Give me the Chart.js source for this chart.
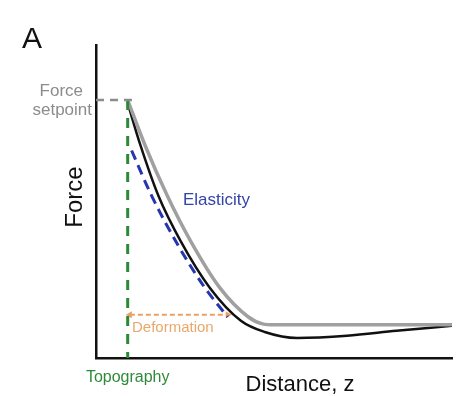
<!DOCTYPE html>
<html>
<head>
<meta charset="utf-8">
<script src="https://cdn.jsdelivr.net/npm/chart.js@4"></script>
<style>
  html, body { margin:0; padding:0; background:#fff; }
  #wrap { width:456px; height:396px; position:relative; }
</style>
</head>
<body>
<div id="wrap"><canvas id="c"></canvas></div>
<script>
// force-distance curve, arbitrary units (0..100 on both axes)
var grayX  = [8.9, 13.8, 20.0, 26.5, 34.8, 42.8, 46.8, 50.0, 100];
var grayY  = [82.4, 67.9, 51.9, 37.5, 22.4, 13.1, 10.9, 10.6, 10.6];
var blackX = [8.9, 12.5, 17.5, 23.7, 32.0, 40.7, 47.4, 56.5, 70.5, 84.4, 100];
var blackY = [81.4, 67.9, 51.9, 37.5, 22.4, 11.9, 8.3, 6.4, 7.1, 8.7, 10.3];
var elastX = [10.0, 15.6, 23.1, 30.6, 37.0];
var elastY = [66.3, 51.9, 35.9, 22.4, 13.1];
var setpoint = 82.4;
var topoX    = 8.9;
var deformY  = 13.8;
var deformX  = [9.5, 37.0];

function pts(xs, ys) {
  return xs.map(function(x, i) { return { x:x, y:ys[i] }; });
}

var textPlugin = {
  id: 'labels',
  afterDraw: function(chart) {
    var c = chart.ctx, sx = chart.scales.x, sy = chart.scales.y;
    c.save();
    c.textBaseline = 'middle';
    c.fillStyle = '#111';
    c.font = '30px Arial, "Liberation Sans", sans-serif';
    c.textAlign = 'left';
    c.fillText('A', 22, 40);

    c.fillStyle = '#8c8c8c';
    c.font = '17px Arial, "Liberation Sans", sans-serif';
    c.textAlign = 'right';
    c.fillText('Force', 83, sy.getPixelForValue(setpoint) - 9);
    c.fillText('setpoint', 92, sy.getPixelForValue(setpoint) + 10);

    c.fillStyle = '#3344aa';
    c.textAlign = 'left';
    c.fillText('Elasticity', 183, 200);

    c.fillStyle = '#e9a86a';
    c.font = '15px Arial, "Liberation Sans", sans-serif';
    c.fillText('Deformation', 132, 328);

    c.fillStyle = '#2e8a3a';
    c.font = '16px Arial, "Liberation Sans", sans-serif';
    c.textAlign = 'center';
    c.fillText('Topography', sx.getPixelForValue(topoX), 378);

    c.fillStyle = '#111';
    c.font = '22px Arial, "Liberation Sans", sans-serif';
    c.fillText('Distance, z', 300, 385);

    c.translate(75, 197);
    c.rotate(-Math.PI / 2);
    c.font = '24px Arial, "Liberation Sans", sans-serif';
    c.fillText('Force', 0, 0);
    c.restore();
  }
};

new Chart(document.getElementById('c'), {
  type: 'scatter',
  data: {
    datasets: [
      { data: pts([0, topoX + 1.2], [setpoint, setpoint]), showLine:true, borderColor:'#8c8c8c',
        borderWidth:2.5, borderDash:[8,6], pointRadius:0 },
      { data: pts([topoX, topoX], [setpoint, -1]), showLine:true, borderColor:'#2a8a35',
        borderWidth:3, borderDash:[10,8], pointRadius:0 },
      { data: pts(grayX, grayY), showLine:true, borderColor:'#a0a0a0', borderWidth:3.5,
        pointRadius:0, cubicInterpolationMode:'monotone' },
      { data: pts(blackX, blackY), showLine:true, borderColor:'#111', borderWidth:2.5,
        pointRadius:0, cubicInterpolationMode:'monotone' },
      { data: pts(elastX, elastY), showLine:true, borderColor:'#2636b0', borderWidth:3,
        borderDash:[10,6], pointRadius:0, cubicInterpolationMode:'monotone' },
      { data: pts(deformX, [deformY, deformY]), showLine:true, borderColor:'#e9a060', borderWidth:2,
        borderDash:[5,3], pointRadius:4, pointStyle:'triangle', pointRotation:[-90, 90],
        pointBackgroundColor:'#e9a060', pointBorderWidth:0 }
    ]
  },
  options: {
    responsive:true, maintainAspectRatio:false, animation:false,
    layout: { padding: { left:96, top:45, right:0, bottom:38 } },
    plugins: { legend:{ display:false }, tooltip:{ enabled:false } },
    scales: {
      x: { type:'linear', min:0, max:100, ticks:{ display:false },
           grid:{ display:false, drawTicks:false }, border:{ color:'#111', width:2.5 } },
      y: { type:'linear', min:0, max:100, ticks:{ display:false },
           grid:{ display:false, drawTicks:false }, border:{ color:'#111', width:2.5 } }
    }
  },
  plugins: [textPlugin]
});
</script>
</body>
</html>
